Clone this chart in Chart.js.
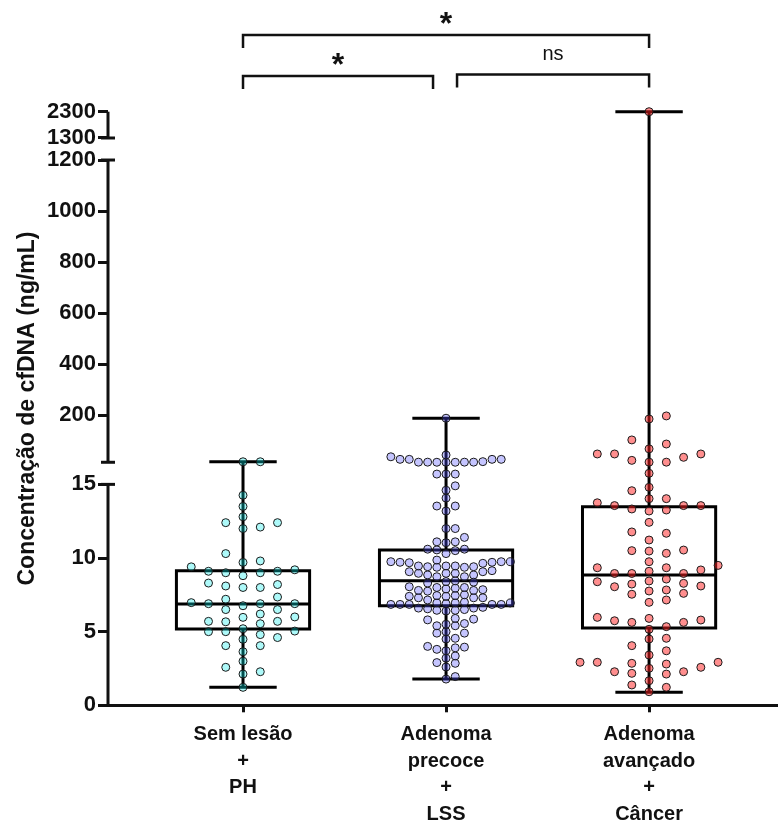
<!DOCTYPE html>
<html>
<head>
<meta charset="utf-8">
<script src="https://cdn.jsdelivr.net/npm/chart.js@4.4.1/dist/chart.umd.min.js"></script>
<style>
  html, body { margin: 0; padding: 0; background: #fff; }
</style>
</head>
<body>
<canvas id="chart" width="778" height="822"></canvas>
<script>
// ============================================================
// cfDNA por grupo - box plot com eixo Y segmentado
// ============================================================

const GROUP_LABELS = [
  ['Sem lesão', '+', 'PH'],
  ['Adenoma', 'precoce', '+', 'LSS'],
  ['Adenoma', 'avançado', '+', 'Câncer'],
];
const Y_TICKS = [0, 5, 10, 15, 200, 400, 600, 800, 1000, 1200, 1300, 2300];

// valores individuais (ng/mL)
const SEM_LESAO = [
  18.5, 18.5, 14.26, 13.5, 12.4, 12.8, 12.0, 12.1, 12.4, 9.8, 10.3, 9.7, 9.4,
  9.2, 9.1, 9.1, 9.0, 9.0, 8.8, 8.2, 8.0, 8.0, 8.3, 8.1, 7.2, 7.35, 6.5, 6.5,
  6.9, 6.97, 6.9, 6.76, 6.9, 6.2, 6.0, 5.97, 5.7, 5.54, 5.7, 5.67, 5.0, 4.8,
  5.04, 5.0, 5.2, 4.6, 4.05, 4.48, 4.05, 3.64, 2.58, 2.99, 2.28, 2.12, 1.22,
];
const ADENOMA_PRECOCE = [
  189, 19, 38, 16.6, 16.6, 17, 28, 28, 28, 17, 28, 17, 17, 16.6, 45,
  15.7, 15.7, 15.7, 14.9, 14.6, 14.07, 13.53, 13.19, 13.53, 12.0, 12.0,
  11.4, 11.1, 11.04, 11.1, 10.5, 10.6, 10.55, 10.6, 10.3,
  9.75, 9.41, 9.71, 9.37, 9.41, 9.46, 9.75, 9.68, 9.64, 9.75, 9.37, 9.86, 9.71, 9.46, 9.46,
  9.07, 8.73, 8.85, 9.07, 8.96, 8.96, 9.14, 8.73, 8.85, 8.96,
  8.36, 8.4, 8.3, 8.45,
  8.0, 8.05, 7.9, 7.95, 7.8, 8.0, 7.85, 7.75, 7.8,
  7.5, 7.3, 7.45, 7.3, 7.4, 7.3, 7.4, 7.45,
  7.15, 6.95, 6.85, 6.95, 6.95, 6.85, 6.85, 7.0, 6.9, 6.85, 6.85,
  6.6, 6.45, 6.4, 6.45, 6.55, 6.6, 6.65, 6.5,
  5.5, 5.55, 5.85, 5.8, 5.4, 5.9, 5.4,
  4.5, 4.9, 5.0, 4.55, 4.9,
  3.7, 3.95, 4.0, 3.8, 3.9,
  3.35, 3.2, 2.85, 2.9, 2.6, 1.78, 1.95,
];
const AVANCADO_CANCER = [
  2300, 198, 186, 88, 104, 69, 49, 49, 24, 36, 49, 17, 17,
  15.75, 14.57, 14.8, 14.03, 13.75, 14.03, 13.56, 13.56, 13.56, 13.19, 13.26, 13.33,
  12.42, 11.68, 11.77, 11.22, 10.5, 10.32, 10.47, 10.54,
  9.5, 9.34, 9.75, 9.34, 9.19, 9.1, 8.95, 8.95, 8.95, 8.57, 8.28, 8.1,
  8.23, 7.6, 6.99, 8.44, 7.83, 8.39, 7.76, 7.15, 7.54, 8.05,
  5.74, 5.9, 5.79, 5.97, 5.63, 5.63, 5.16, 5.34, 4.55, 4.5, 4.05, 3.7, 3.41,
  2.8, 2.12, 2.51, 2.92, 2.28, 1.67, 2.58, 2.85, 2.92, 2.17, 2.92, 2.28,
  1.38, 1.22, 0.92,
];
const GROUP_VALUES = [SEM_LESAO, ADENOMA_PRECOCE, AVANCADO_CANCER];

// resumo do box plot (min, Q1, mediana, Q3, max)
const BOX_MIN = [1.22, 1.78, 0.88];
const BOX_Q1 = [5.18, 6.76, 5.25];
const BOX_MEDIAN = [6.88, 8.46, 8.85];
const BOX_Q3 = [9.14, 10.54, 13.48];
const BOX_MAX = [18.8, 189, 2300];

// comparações: [grupo A, grupo B, rótulo]
const COMPARISONS = [[0, 2, '*'], [0, 1, '*'], [1, 2, 'ns']];

const POINT_FILL = ['rgba(0, 235, 235, 0.32)', 'rgba(80, 80, 255, 0.33)', 'rgba(255, 30, 30, 0.5)'];
const SWARM_STEP = [0.085, 0.0453, 0.085];
const SWARM_MIN_DY = [9.5, 7, 9.5];

// --- eixo Y quebrado: valor -> fração da altura -------------
const KNOT_VALUES = [0, 16.5, 1200, 1300, 2300];
const KNOT_FRACS = [0, 0.4094, 0.9186, 0.9557, 1];
const AXIS_SEGMENTS = [[0, 15], [16.5, 1200], [1300, 2300]];
const SEGMENT_CAPS = [15, 16.5, 1200, 1300];

function interp(v, from, to) {
  if (v === null || v === undefined || isNaN(v)) return NaN;
  let i = 1;
  while (i < from.length - 1 && v > from[i]) i++;
  return to[i - 1] + (v - from[i - 1]) / (from[i] - from[i - 1]) * (to[i] - to[i - 1]);
}
const toFrac = v => interp(v, KNOT_VALUES, KNOT_FRACS);
const fromFrac = f => interp(f, KNOT_FRACS, KNOT_VALUES);

class BrokenScale extends Chart.LinearScale {
  static id = 'broken';
  static defaults = {};
  buildTicks() {
    this.start = this.min;
    this.end = this.max;
    return Y_TICKS.map(v => ({ value: v }));
  }
  getPixelForValue(value) {
    return this.getPixelForDecimal(toFrac(value));
  }
  getValueForPixel(pixel) {
    return fromFrac(this.getDecimalForPixel(pixel));
  }
}
Chart.register(BrokenScale);

// --- dispersão tipo "beeswarm" -------------------------------
const PLOT_H = 594;
function swarm(values, center, step, minDy) {
  const placed = [];
  const order = values.map((_, i) => i).sort((a, b) => values[a] - values[b]);
  return order.map(i => {
    const py = toFrac(values[i]) * PLOT_H;
    let k = 0, col = 0;
    while (true) {
      col = k === 0 ? 0 : (k % 2 ? (k + 1) / 2 : -k / 2);
      if (!placed.some(p => p.col === col && Math.abs(p.py - py) < minDy)) break;
      k++;
    }
    placed.push({ col, py });
    return { x: center + col * step, y: values[i] };
  });
}

function boxLines(i) {
  const bw = 0.328, cw = 0.166, gap = { x: i, y: null };
  return [
    { x: i, y: BOX_Q1[i] }, { x: i + bw, y: BOX_Q1[i] }, { x: i + bw, y: BOX_Q3[i] },
    { x: i - bw, y: BOX_Q3[i] }, { x: i - bw, y: BOX_Q1[i] }, { x: i, y: BOX_Q1[i] }, gap,
    { x: i - bw, y: BOX_MEDIAN[i] }, { x: i + bw, y: BOX_MEDIAN[i] }, gap,
    { x: i, y: BOX_Q3[i] }, { x: i, y: BOX_MAX[i] }, gap,
    { x: i - cw, y: BOX_MAX[i] }, { x: i + cw, y: BOX_MAX[i] }, gap,
    { x: i, y: BOX_Q1[i] }, { x: i, y: BOX_MIN[i] }, gap,
    { x: i - cw, y: BOX_MIN[i] }, { x: i + cw, y: BOX_MIN[i] },
  ];
}

const datasets = [];
GROUP_VALUES.forEach((vals, i) => {
  datasets.push({
    data: swarm(vals, i, SWARM_STEP[i], SWARM_MIN_DY[i]),
    backgroundColor: POINT_FILL[i],
    borderColor: '#1a1a1a',
    borderWidth: 1,
    pointRadius: 4,
    pointHoverRadius: 4,
    clip: false,
    order: 0,
  });
  datasets.push({
    type: 'line',
    data: boxLines(i),
    borderColor: '#000',
    borderWidth: 3,
    borderJoinStyle: 'miter',
    pointRadius: 0,
    tension: 0,
    spanGaps: false,
    fill: false,
    clip: false,
    order: 1,
  });
});

// --- eixo segmentado, barras de significância ----------------
const decorPlugin = {
  id: 'decor',
  beforeDatasetsDraw(chart) {
    const { ctx, chartArea, scales: { y } } = chart;
    const ax = chartArea.left;
    ctx.save();
    ctx.strokeStyle = '#111';
    ctx.lineWidth = 3;
    AXIS_SEGMENTS.forEach(([a, b]) => {
      ctx.beginPath();
      ctx.moveTo(ax, y.getPixelForValue(a) + (a === 0 ? 1.5 : 0));
      ctx.lineTo(ax, y.getPixelForValue(b));
      ctx.stroke();
    });
    SEGMENT_CAPS.forEach(v => {
      const py = y.getPixelForValue(v);
      ctx.beginPath();
      ctx.moveTo(ax - 7, py);
      ctx.lineTo(ax + 7, py);
      ctx.stroke();
    });
    ctx.restore();
  },
  afterDraw(chart) {
    const { ctx, scales: { x } } = chart;
    const levels = [35, 76];
    ctx.save();
    ctx.strokeStyle = '#111';
    ctx.fillStyle = '#111';
    ctx.lineWidth = 2.5;
    ctx.textAlign = 'center';
    COMPARISONS.forEach(([a, b, label]) => {
      const wide = b - a > 1;
      const by = wide ? levels[0] : levels[1] - (a === 1 ? 1.5 : 0);
      const x1 = x.getPixelForValue(a) + (!wide && a === 1 ? 11 : 0);
      const x2 = x.getPixelForValue(b) - (!wide && b === 1 ? 13 : 0);
      ctx.beginPath();
      ctx.moveTo(x1, by + 13);
      ctx.lineTo(x1, by);
      ctx.lineTo(x2, by);
      ctx.lineTo(x2, by + 13);
      ctx.stroke();
      if (label === '*') {
        ctx.font = 'bold 32px "Liberation Sans", Arial, sans-serif';
        ctx.fillText(label, (x1 + x2) / 2, by - 1);
      } else {
        ctx.font = '20px "Liberation Sans", Arial, sans-serif';
        ctx.fillText(label, (x1 + x2) / 2, by - 15);
      }
    });
    ctx.restore();
  },
};

Chart.defaults.font.family = '"Liberation Sans", Arial, sans-serif';
Chart.defaults.color = '#111';

new Chart(document.getElementById('chart'), {
  type: 'scatter',
  data: { datasets },
  plugins: [decorPlugin],
  options: {
    responsive: false,
    animation: false,
    events: [],
    layout: { autoPadding: false, padding: { top: 111.7, left: 0, right: 0, bottom: 0 } },
    plugins: {
      legend: { display: false },
      tooltip: { enabled: false },
    },
    scales: {
      x: {
        type: 'linear',
        min: -0.665,
        max: 2.635,
        afterBuildTicks: s => { s.ticks = GROUP_LABELS.map((_, i) => ({ value: i })); },
        afterFit: s => { s.height = 116.7; },
        ticks: {
          autoSkip: false,
          maxRotation: 0,
          padding: 9,
          color: '#111',
          font: { size: 20, weight: 'bold', lineHeight: 1.33 },
          callback: v => GROUP_LABELS[v],
        },
        grid: { drawOnChartArea: false, drawTicks: true, tickLength: 7, lineWidth: 3, color: '#111' },
        border: { display: true, width: 3, color: '#111' },
      },
      y: {
        type: 'broken',
        min: 0,
        max: 2300,
        afterFit: s => { s.width = 108; },
        ticks: {
          autoSkip: false,
          padding: 2,
          color: '#111',
          font: { size: 22, weight: 'bold' },
          callback: v => String(v),
        },
        grid: { drawOnChartArea: false, drawTicks: true, tickLength: 10, lineWidth: 3, color: '#111' },
        border: { display: false },
        title: {
          display: true,
          text: 'Concentração de cfDNA (ng/mL)',
          color: '#111',
          font: { size: 23, weight: 'bold' },
          padding: { top: 14, bottom: 0 },
        },
      },
    },
  },
});
</script>
</body>
</html>
